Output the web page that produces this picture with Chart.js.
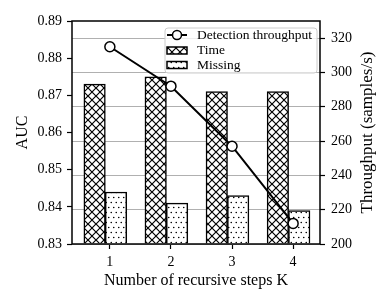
<!DOCTYPE html>
<html>
<head>
<meta charset="utf-8">
<script src="https://cdn.jsdelivr.net/npm/chart.js@4.4.1/dist/chart.umd.min.js"></script>
<style>
  html, body { margin: 0; padding: 0; background: #fff; }
</style>
</head>
<body>
<canvas id="recursiveChart" width="391" height="304"></canvas>
<script>
const steps = [1, 2, 3, 4];
const throughput = [315, 292, 257, 212];
const timeAuc = [0.873, 0.875, 0.871, 0.871];
const missingAuc = [0.844, 0.841, 0.843, 0.839];
const aucTicks = [0.83, 0.84, 0.85, 0.86, 0.87, 0.88, 0.89];
const throughputTicks = [200, 220, 240, 260, 280, 300, 320];

const FONT = "'Liberation Serif', 'DejaVu Serif', serif";
const recursiveChart = document.getElementById("recursiveChart");

function hatchCross() {
  const c = document.createElement("canvas");
  c.width = 8; c.height = 8;
  const g = c.getContext("2d");
  g.fillStyle = "#fff";
  g.fillRect(0, 0, 8, 8);
  g.strokeStyle = "#000";
  g.lineWidth = 1.2;
  g.beginPath();
  g.moveTo(-1, -1); g.lineTo(9, 9);
  g.moveTo(9, -1); g.lineTo(-1, 9);
  g.stroke();
  return recursiveChart.getContext("2d").createPattern(c, "repeat");
}

function hatchDots() {
  const c = document.createElement("canvas");
  c.width = 5; c.height = 10;
  const g = c.getContext("2d");
  g.fillStyle = "#fff";
  g.fillRect(0, 0, 5, 10);
  g.fillStyle = "#000";
  g.beginPath();
  g.arc(1.25, 2.5, 0.8, 0, Math.PI * 2);
  g.arc(3.75, 7.5, 0.8, 0, Math.PI * 2);
  g.fill();
  return recursiveChart.getContext("2d").createPattern(c, "repeat");
}

const crossPattern = hatchCross();
const dotPattern = hatchDots();

// frame, right axis title and legend
const decor = {
  id: "decor",
  afterDraw(chart) {
    const ctx = chart.ctx;
    const a = chart.chartArea;
    ctx.save();
    ctx.strokeStyle = "#000";
    ctx.lineWidth = 1.5;
    ctx.strokeRect(a.left, a.top, a.right - a.left, a.bottom - a.top);

    ctx.fillStyle = "#000";
    ctx.font = "17px " + FONT;
    ctx.textAlign = "center";
    ctx.textBaseline = "middle";
    ctx.translate(368, (a.top + a.bottom) / 2);
    ctx.rotate(-Math.PI / 2);
    ctx.fillText("Throughput (samples/s)", 0, 0);
    ctx.restore();

    // legend
    const bx = 165, by = 28, bw = 152, bh = 45;
    ctx.save();
    ctx.beginPath();
    ctx.roundRect(bx, by, bw, bh, 3);
    ctx.fillStyle = "rgba(255,255,255,0.8)";
    ctx.fill();
    ctx.strokeStyle = "#cccccc";
    ctx.lineWidth = 1;
    ctx.stroke();
    ctx.clip();

    const rows = [35, 50.5, 65];
    const ds = chart.data.datasets;
    ctx.strokeStyle = "#000";
    ctx.lineWidth = 2;
    ctx.beginPath();
    ctx.moveTo(167, rows[0]); ctx.lineTo(187, rows[0]);
    ctx.stroke();
    ctx.beginPath();
    ctx.arc(177, rows[0], 4.5, 0, Math.PI * 2);
    ctx.fillStyle = "#fff";
    ctx.fill();
    ctx.lineWidth = 1.5;
    ctx.stroke();

    [1, 2].forEach((i) => {
      ctx.fillStyle = ds[i].backgroundColor;
      ctx.fillRect(167, rows[i] - 3.5, 20, 7);
      ctx.strokeRect(167, rows[i] - 3.5, 20, 7);
    });

    ctx.fillStyle = "#000";
    ctx.font = "13.5px " + FONT;
    ctx.textBaseline = "middle";
    ds.forEach((d, i) => ctx.fillText(d.label, 197, rows[i]));
    ctx.restore();
  },
};

new Chart(recursiveChart, {
  type: "bar",
  data: {
    datasets: [
      {
        type: "line",
        label: "Detection throughput",
        data: steps.map((k, i) => ({ x: k, y: throughput[i] })),
        yAxisID: "y1",
        borderColor: "#000",
        borderWidth: 2,
        pointRadius: 5,
        pointBackgroundColor: "#fff",
        pointBorderColor: "#000",
        pointBorderWidth: 1.5,
        tension: 0,
        order: 0,
      },
      {
        label: "Time",
        data: steps.map((k, i) => ({ x: k - 0.25, y: timeAuc[i] })),
        yAxisID: "y",
        backgroundColor: crossPattern,
        borderColor: "#000",
        borderWidth: 1.5,
        base: aucTicks[0],
        order: 1,
      },
      {
        label: "Missing",
        data: steps.map((k, i) => ({ x: k + 0.1, y: missingAuc[i] })),
        yAxisID: "y",
        backgroundColor: dotPattern,
        borderColor: "#000",
        borderWidth: 1.5,
        base: aucTicks[0],
        order: 1,
      },
    ],
  },
  options: {
    responsive: false,
    devicePixelRatio: 1,
    animation: false,
    layout: { padding: { top: 21, left: 0, right: 0, bottom: 0 } },
    datasets: { bar: { grouped: false, barThickness: 21.5 } },
    plugins: { legend: { display: false }, tooltip: { enabled: false } },
    scales: {
      x: {
        type: "linear",
        offset: false,
        min: 0.38,
        max: 4.44,
        afterBuildTicks: (s) => { s.ticks = steps.map((v) => ({ value: v })); },
        afterFit: (s) => { s.height = 60; },
        ticks: { color: "#000", font: { family: FONT, size: 14 }, padding: 5 },
        grid: { offset: false, drawOnChartArea: false, tickColor: "#000", tickLength: 5, tickWidth: 1.2 },
        border: { display: false },
        title: {
          display: true,
          text: "Number of recursive steps K",
          color: "#000",
          font: { family: FONT, size: 16 },
          padding: { top: 0, bottom: 14 },
        },
      },
      y: {
        position: "left",
        min: aucTicks[0],
        max: aucTicks[aucTicks.length - 1],
        afterBuildTicks: (s) => { s.ticks = aucTicks.map((v) => ({ value: v })); },
        afterFit: (s) => { s.width = 72; },
        ticks: { color: "#000", font: { family: FONT, size: 14 }, padding: 5, callback: (v) => v.toFixed(2) },
        grid: { drawOnChartArea: false, tickColor: "#000", tickLength: 5, tickWidth: 1.2 },
        border: { display: false },
        title: {
          display: true,
          text: "AUC",
          color: "#000",
          font: { family: FONT, size: 16 },
          padding: { top: 13, bottom: 0 },
        },
      },
      y1: {
        position: "right",
        min: 200,
        max: 330,
        afterBuildTicks: (s) => { s.ticks = throughputTicks.map((v) => ({ value: v })); },
        afterFit: (s) => { s.width = 71; },
        ticks: { color: "#000", font: { family: FONT, size: 14 }, padding: 6 },
        grid: { color: "#b0b0b0", lineWidth: 1, tickColor: "#000", tickLength: 5, tickWidth: 1.2 },
        border: { display: false },
      },
    },
  },
  plugins: [decor],
});
</script>
</body>
</html>
